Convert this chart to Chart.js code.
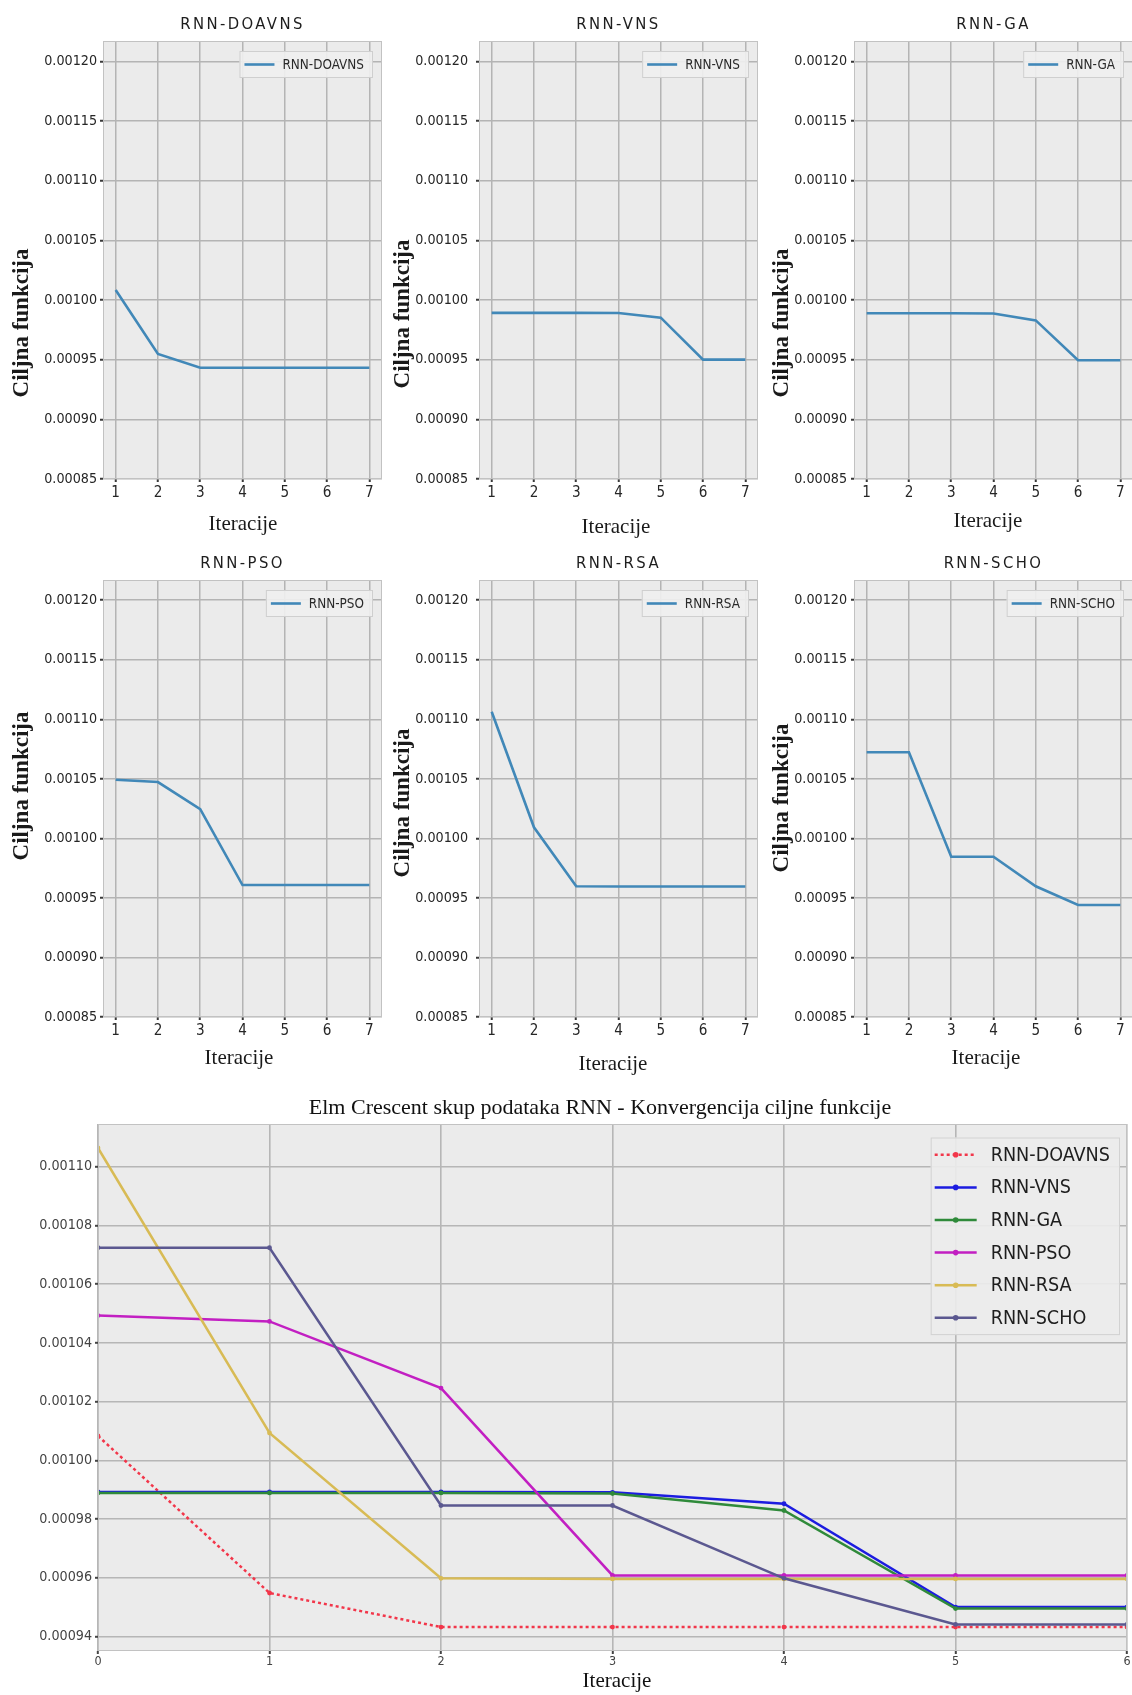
<!DOCTYPE html>
<html>
<head>
<meta charset="utf-8">
<script src="https://cdn.jsdelivr.net/npm/chart.js@4.4.1/dist/chart.umd.min.js"></script>
<style>
  html, body { margin: 0; padding: 0; background: #ffffff; }
  #page { position: relative; width: 1132px; height: 1695px; overflow: hidden; background: #ffffff; }
  .cv { position: absolute; }
</style>
</head>
<body>
<div id="page"></div>
<script>
// ---- data -------------------------------------------------------------
const iterations = [1, 2, 3, 4, 5, 6, 7];          // iteration axis of the small panels
const bigIterations = [0, 1, 2, 3, 4, 5, 6];       // iteration axis of the comparison plot
const algorithms = ['RNN-DOAVNS', 'RNN-VNS', 'RNN-GA', 'RNN-PSO', 'RNN-RSA', 'RNN-SCHO'];

const doavns = [0.0010083, 0.0009548, 0.0009432, 0.0009432, 0.0009432, 0.0009432, 0.0009432];
const vns    = [0.0009892, 0.0009892, 0.0009892, 0.0009891, 0.0009852, 0.0009500, 0.0009500];
const ga     = [0.0009889, 0.0009889, 0.0009889, 0.0009887, 0.0009829, 0.0009495, 0.0009495];
const pso    = [0.0010493, 0.0010473, 0.0010246, 0.0009608, 0.0009608, 0.0009608, 0.0009608];
const rsa    = [0.0011064, 0.0010093, 0.0009598, 0.0009596, 0.0009596, 0.0009596, 0.0009596];
const scho   = [0.0010724, 0.0010724, 0.0009846, 0.0009846, 0.0009598, 0.0009441, 0.0009441];

const subYTicks = [0.00085, 0.00090, 0.00095, 0.00100, 0.00105, 0.00110, 0.00115, 0.00120];
const subXTicks = [1, 2, 3, 4, 5, 6, 7];
const bigYTicks = [0.00094, 0.00096, 0.00098, 0.00100, 0.00102, 0.00104, 0.00106, 0.00108, 0.00110];
const bigXTicks = [0, 1, 2, 3, 4, 5, 6];

const series = [doavns, vns, ga, pso, rsa, scho];

// ---- fonts ------------------------------------------------------------
function hasFont(name) {
  const c = document.createElement('canvas').getContext('2d');
  const sample = 'RNN-DOAVNS 0.00120 Iteracije';
  c.font = '40px monospace';
  const w0 = c.measureText(sample).width;
  c.font = '40px "' + name + '", monospace';
  return c.measureText(sample).width !== w0;
}
let SANS = '"Liberation Sans", Arial, sans-serif', K = 0.82;
if (hasFont('Liberation Sans Narrow')) { SANS = '"Liberation Sans Narrow", sans-serif'; K = 1; }
else if (hasFont('DejaVu Sans Condensed')) { SANS = '"DejaVu Sans Condensed", sans-serif'; K = 0.89; }
const fs = px => Math.round(px * K * 10) / 10;
const SERIF = '"Liberation Serif", "Times New Roman", serif';

// ---- drawing helpers --------------------------------------------------
const decor = {
  id: 'decor',
  beforeDraw(chart, args, o) {
    const { ctx, chartArea: a } = chart;
    ctx.save();
    ctx.fillStyle = o.bg;
    ctx.fillRect(a.left, a.top, a.right - a.left, a.bottom - a.top);
    ctx.restore();
  },
  afterDraw(chart, args, o) {
    const { ctx, chartArea: a } = chart;
    ctx.save();
    ctx.strokeStyle = o.frame;
    ctx.lineWidth = 1;
    ctx.strokeRect(a.left + 0.5, a.top + 0.5, a.right - a.left - 1, a.bottom - a.top - 1);
    ctx.restore();

    for (const t of o.texts) {
      ctx.save();
      ctx.font = t.font;
      ctx.fillStyle = t.color || '#111';
      ctx.textAlign = 'center';
      ctx.textBaseline = 'middle';
      if (t.spacing) ctx.letterSpacing = t.spacing + 'px';
      ctx.translate(t.x - o.ox, t.y - o.oy);
      if (t.rotate) ctx.rotate(t.rotate);
      ctx.fillText(t.text, 0, 0);
      ctx.restore();
    }

    const L = o.legend;
    if (!L) return;
    ctx.save();
    ctx.font = L.font;
    const textW = Math.max(...L.items.map(it => ctx.measureText(it.label).width));
    const boxW = L.padL + L.lineLen + L.gap + textW + L.padR;
    const boxH = L.padV * 2 + L.rowH * L.items.length;
    const right = a.right - L.right;
    const left = right - boxW;
    const top = a.top + L.top;
    ctx.fillStyle = L.fill;
    ctx.strokeStyle = L.stroke;
    ctx.lineWidth = 1;
    ctx.fillRect(left, top, boxW, boxH);
    ctx.strokeRect(left + 0.5, top + 0.5, boxW - 1, boxH - 1);
    L.items.forEach((it, i) => {
      const cy = top + L.padV + L.rowH * (i + 0.5);
      const x0 = left + L.padL, x1 = x0 + L.lineLen;
      ctx.save();
      ctx.strokeStyle = it.color;
      ctx.lineWidth = it.width;
      ctx.setLineDash(it.dash || []);
      ctx.beginPath();
      ctx.moveTo(x0, cy);
      ctx.lineTo(x1, cy);
      ctx.stroke();
      if (it.marker) {
        ctx.fillStyle = it.color;
        ctx.beginPath();
        ctx.arc((x0 + x1) / 2, cy, it.marker, 0, Math.PI * 2);
        ctx.fill();
      }
      ctx.restore();
      ctx.fillStyle = L.textColor;
      ctx.textAlign = 'left';
      ctx.textBaseline = 'middle';
      ctx.fillText(it.label, x1 + L.gap, cy + 1);
    });
    ctx.restore();
  }
};

const page = document.getElementById('page');

function buildChart(spec) {
  const PL = 115, PT = 50, PR = 40, PB = 80;
  const ar = spec.area;
  const ox = ar.left - PL, oy = ar.top - PT;
  const w = Math.round(ar.width + PL + PR), h = Math.round(ar.height + PT + PB);
  const cv = document.createElement('canvas');
  cv.className = 'cv';
  cv.width = w; cv.height = h;
  cv.style.left = ox + 'px'; cv.style.top = oy + 'px';
  cv.style.width = w + 'px'; cv.style.height = h + 'px';
  page.appendChild(cv);

  const gridBase = {
    color: spec.gridColor, lineWidth: spec.gridWidth,
    drawTicks: true, tickLength: 3, tickWidth: 2, tickColor: spec.tickColor
  };

  new Chart(cv, {
    type: 'line',
    data: { datasets: spec.datasets },
    options: {
      responsive: false,
      animation: false,
      devicePixelRatio: 1,
      layout: { padding: { left: 0, top: PT, right: PR, bottom: 0 } },
      plugins: {
        legend: { display: false },
        tooltip: { enabled: false },
        decor: {
          ox, oy, bg: '#ebebeb', frame: '#c2c2c2',
          texts: spec.texts, legend: spec.legend
        }
      },
      scales: {
        x: {
          type: 'linear', min: spec.xMin, max: spec.xMax,
          afterFit: s => { s.height = PB; },
          afterBuildTicks: s => { s.ticks = spec.xTicks.map(v => ({ value: v })); },
          grid: gridBase,
          border: { display: false },
          ticks: {
            maxRotation: 0, autoSkip: false, padding: spec.xPad,
            color: spec.tickText, font: { family: SANS, size: spec.xFont },
            callback: v => String(v)
          }
        },
        y: {
          type: 'linear', min: spec.yMin, max: spec.yMax,
          afterFit: s => { s.width = PL; },
          afterBuildTicks: s => { s.ticks = spec.yTicks.map(v => ({ value: v })); },
          grid: gridBase,
          border: { display: false },
          ticks: {
            autoSkip: false, padding: spec.yPad,
            color: spec.tickText, font: { family: SANS, size: spec.yFont },
            callback: v => Number(v).toFixed(5)
          }
        }
      }
    },
    plugins: [decor]
  });
}

// ---- small panels, one per algorithm ---------------------------------
const panelColor = '#4188b8';
const colLeft = [103, 479, 854];
const colYPad = [3, 8, 4];
const rowTop = [41, 580];
const rowHeight = [438, 437];
const yTitlePos = [[22.5, 323], [403.5, 314], [782.5, 323], [22.5, 786], [403.5, 803], [782.5, 798]];
const xTitlePos = [[243, 524], [616, 527], [988, 521], [239, 1058], [613, 1064], [986, 1058]];

algorithms.forEach((name, k) => {
  const col = k % 3, row = Math.floor(k / 3);
  const area = { left: colLeft[col], top: rowTop[row], width: 279, height: rowHeight[row] };
  buildChart({
    area,
    xMin: 0.7, xMax: 7.3, yMin: 0.00085, yMax: 0.001217,
    xTicks: subXTicks, yTicks: subYTicks,
    xFont: fs(17), yFont: fs(16), xPad: 2, yPad: colYPad[col],
    tickText: '#262626', tickColor: '#3a3a3a',
    gridColor: '#b4b4b4', gridWidth: 1.5,
    datasets: [{
      label: name,
      data: iterations.map((x, i) => ({ x, y: series[k][i] })),
      borderColor: panelColor, borderWidth: 2.6, pointRadius: 0,
      tension: 0, fill: false
    }],
    texts: [
      { text: name, x: area.left + area.width / 2, y: area.top - 16.5,
        font: fs(18.5) + 'px ' + SANS, spacing: 2.4, color: '#1e1e1e' },
      { text: 'Ciljna funkcija', x: yTitlePos[k][0], y: yTitlePos[k][1],
        font: 'bold 23px ' + SERIF, rotate: -Math.PI / 2, color: '#1a1a1a' },
      { text: 'Iteracije', x: xTitlePos[k][0], y: xTitlePos[k][1],
        font: '21px ' + SERIF, color: '#1a1a1a' }
    ],
    legend: {
      font: fs(15) + 'px ' + SANS, textColor: '#2a2a2a',
      fill: 'rgba(240,240,240,0.9)', stroke: '#cfcfcf',
      right: 9, top: 10, padL: 5, padR: 9, padV: 5, rowH: 17, lineLen: 30, gap: 8,
      items: [{ label: name, color: panelColor, width: 2.6 }]
    }
  });
});

// ---- comparison of all algorithms -------------------------------------
const bigColors = ['#f2364a', '#1c1ce0', '#2f8a3a', '#c21fc2', '#d8bb55', '#5b5890'];
const bigDash = [[3, 3], null, null, null, null, null];
const allValues = series.flat();
const vMin = Math.min(...allValues), vMax = Math.max(...allValues);
const vPad = (vMax - vMin) * 0.05;

const bigArea = { left: 98, top: 1123.5, width: 1029, height: 527 };
buildChart({
  area: bigArea,
  xMin: 0, xMax: 6, yMin: vMin - vPad, yMax: vMax + vPad,
  xTicks: bigXTicks, yTicks: bigYTicks,
  xFont: fs(14), yFont: fs(16), xPad: 0, yPad: 3,
  tickText: '#444444', tickColor: '#444444',
  gridColor: '#b6b6b6', gridWidth: 1.6,
  datasets: algorithms.map((name, k) => ({
    label: name,
    data: bigIterations.map((x, i) => ({ x, y: series[k][i] })),
    borderColor: bigColors[k], backgroundColor: bigColors[k],
    borderWidth: 2.5, borderDash: bigDash[k] || [],
    pointRadius: 2.4, pointBorderWidth: 0, pointBackgroundColor: bigColors[k],
    tension: 0, fill: false, order: -k
  })),
  texts: [
    { text: 'Elm Crescent skup podataka RNN - Konvergencija ciljne funkcije',
      x: 600, y: 1108, font: '22px ' + SERIF, color: '#111' },
    { text: 'Iteracije', x: 617, y: 1681, font: '21px ' + SERIF, color: '#111' }
  ],
  legend: {
    font: fs(22) + 'px ' + SANS, textColor: '#1e1e1e',
    fill: 'rgba(236,236,236,0.9)', stroke: '#d2d2d2',
    right: 7, top: 13.5, padL: 4, padR: 10, padV: 1, rowH: 32.6, lineLen: 42, gap: 14,
    items: algorithms.map((name, k) => ({
      label: name, color: bigColors[k], width: 2.5,
      dash: bigDash[k], marker: 2.8
    }))
  }
});
</script>
</body>
</html>
